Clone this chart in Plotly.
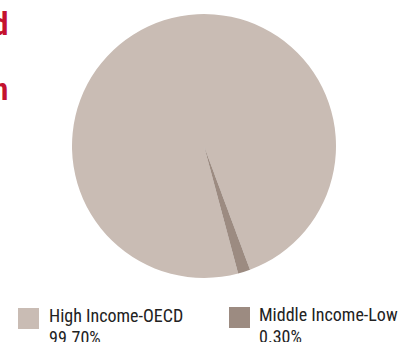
import plotly.graph_objects as go

W, H = 405, 342

categories = ["High Income-OECD", "Middle Income-Low"]
share_labels = ["99.70%", "0.30%"]
# slice shares as drawn in the picture
slice_values = [98.5, 1.5]
colors = ["#C9BCB4", "#9C8B81"]
title_tails = ["d", "n"]

def px(x):
    return x / W

def py(y):
    return 1 - y / H

cx, cy, r = 204, 146, 132

fig = go.Figure(go.Pie(
    labels=categories,
    values=slice_values,
    marker=dict(colors=colors, line=dict(width=0)),
    sort=False,
    direction="clockwise",
    rotation=165,
    textinfo="none",
    hoverinfo="label",
    showlegend=False,
    domain=dict(x=[px(cx - r), px(cx + r)], y=[py(cy + r), py(cy - r)]),
))

font_fam = "Liberation Sans Narrow, Roboto Condensed, Arial Narrow, Roboto, sans-serif"
fsize = 18

# manual legend: (square x, text x, square y)
legend_pos = [(18, 48, 308), (229, 258, 307)]
for (sx, tx, sy), cat, lab, col in zip(legend_pos, categories, share_labels, colors):
    fig.add_shape(type="rect", xref="paper", yref="paper",
                  x0=px(sx), x1=px(sx + 21), y0=py(sy + 21), y1=py(sy),
                  fillcolor=col, line=dict(width=0))
    for k, line in enumerate([cat, lab]):
        fig.add_annotation(xref="paper", yref="paper", x=px(tx), y=py(sy - 4 + 22 * k),
                           xanchor="left", yanchor="top", align="left",
                           showarrow=False, borderpad=0, text=line,
                           font=dict(family=font_fam, size=fsize, color="#222222"))

# cropped title fragments
for t, yb in zip(title_tails, [38, 103]):
    fig.add_annotation(xref="paper", yref="paper", x=px(9), y=py(yb + 6),
                       xanchor="right", yanchor="bottom", showarrow=False,
                       borderpad=0, text=f"<b>{t}</b>",
                       font=dict(family=font_fam, size=31, color="#C4122F"))

fig.update_layout(width=W, height=H, margin=dict(l=0, r=0, t=0, b=0),
                  paper_bgcolor="white", plot_bgcolor="white")

fig.write_html("out.html")
